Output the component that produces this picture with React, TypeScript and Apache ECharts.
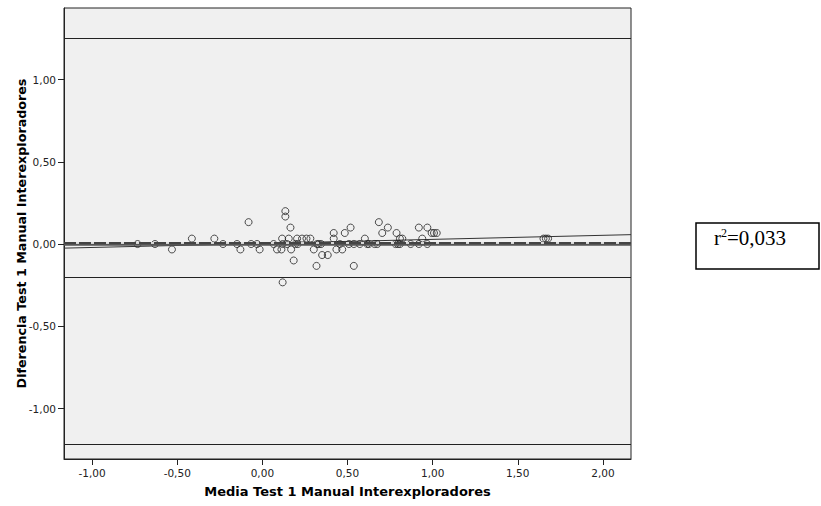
import React, { useEffect, useRef } from "react";
import * as echarts from "echarts";

// Scatter points (mean, difference)
const meanValues = [
  -0.733, -0.631, -0.531, -0.414, -0.282, -0.231, -0.149, -0.129, -0.081, -0.066,
  -0.031, -0.016, 0.066, 0.086, 0.112, 0.116, 0.119, 0.119, 0.135, 0.135,
  0.145, 0.155, 0.165, 0.169, 0.184, 0.194, 0.204, 0.208, 0.233, 0.259,
  0.282, 0.302, 0.318, 0.322, 0.331, 0.345, 0.351, 0.384, 0.419, 0.419,
  0.435, 0.455, 0.469, 0.484, 0.518, 0.508, 0.537, 0.537, 0.572, 0.602,
  0.616, 0.625, 0.659, 0.675, 0.684, 0.704, 0.737, 0.788, 0.782, 0.796,
  0.808, 0.808, 0.822, 0.871, 0.919, 0.939, 0.919, 0.969, 0.969, 0.994,
  1.008, 1.024, 1.651, 1.665, 1.678,
];
const diffValues = [
  0, 0, -0.033, 0.033, 0.033, 0, 0, -0.033, 0.133, 0,
  0, -0.033, 0, -0.033, -0.033, 0.033, 0, -0.233, 0.2, 0.167,
  0, 0.033, 0.1, -0.033, -0.1, 0, 0.033, 0, 0.033, 0.033,
  0.033, -0.033, -0.133, 0, 0, 0, -0.067, -0.067, 0.067, 0.033,
  -0.033, 0, -0.033, 0.067, 0.1, 0, 0, -0.133, 0, 0.033,
  0, 0, 0, 0, 0.133, 0.067, 0.1, 0.067, 0, 0,
  0, 0.033, 0.033, 0, 0.1, 0.033, 0, 0.1, 0, 0.067,
  0.067, 0.067, 0.033, 0.033, 0.033,
];

// Horizontal reference lines
const limitLines = [1.25, -0.2, -1.22];
const zeroLine = 0;
const meanLine = 0.012;

// Regression line endpoints
const regX = [-1.165, 2.165];
const regY = [-0.025, 0.057];

const xTicks = [-1, -0.5, 0, 0.5, 1, 1.5, 2];
const yTicks = [-1, -0.5, 0, 0.5, 1];
const xRange = [-1.165, 2.165];
const yRange = [-1.307, 1.435];

const xTitle = "Media Test 1 Manual Interexploradores";
const yTitle = "Diferencia Test 1 Manual Interexploradores";
const r2Value = "0,033";

const fmt = (v: number) => v.toFixed(2).replace(".", ",");

export default function App() {
  const ref = useRef<HTMLDivElement>(null);
  useEffect(() => {
    if (!ref.current) return;
    const chart = echarts.init(ref.current, undefined, { renderer: "svg" });
    const font = "'DejaVu Sans', Verdana, sans-serif";
    const serif = "'Liberation Serif', 'Times New Roman', serif";
    chart.setOption({
      animation: false,
      backgroundColor: "#ffffff",
      grid: {
        left: 64,
        top: 8,
        right: 190,
        bottom: 47,
        show: true,
        containLabel: false,
        outerBoundsMode: "none",
        backgroundColor: "#f0f0f0",
        borderColor: "#222",
        borderWidth: 1,
      },
      xAxis: {
        type: "value",
        min: xRange[0],
        max: xRange[1],
        name: xTitle,
        nameLocation: "middle",
        nameGap: 26,
        nameMoveOverlap: false,
        nameTextStyle: { fontFamily: font, fontWeight: "bold", fontSize: 13, color: "#000" },
        axisLine: { show: true, onZero: false, lineStyle: { color: "#222" } },
        axisTick: { show: true, length: 6, customValues: xTicks, lineStyle: { color: "#222" } },
        axisLabel: {
          customValues: xTicks,
          formatter: (v: number) => fmt(v),
          fontFamily: font,
          fontSize: 10.5,
          color: "#222",
          margin: 8,
        },
        splitLine: { show: false },
      },
      yAxis: {
        type: "value",
        min: yRange[0],
        max: yRange[1],
        name: yTitle,
        nameLocation: "middle",
        nameGap: 36,
        nameMoveOverlap: false,
        nameTextStyle: { fontFamily: font, fontWeight: "bold", fontSize: 12.7, color: "#000" },
        axisLine: { show: true, onZero: false, lineStyle: { color: "#222" } },
        axisTick: { show: true, length: 6, customValues: yTicks, lineStyle: { color: "#222" } },
        axisLabel: {
          customValues: yTicks,
          formatter: (v: number) => fmt(v),
          fontFamily: font,
          fontSize: 10.5,
          color: "#222",
          margin: 8,
        },
        splitLine: { show: false },
      },
      series: [
        {
          type: "line",
          data: [],
          silent: true,
          markLine: {
            silent: true,
            symbol: "none",
            label: { show: false },
            data: [
              ...limitLines.map((v) => ({ yAxis: v, lineStyle: { color: "#222", width: 1.2, type: "solid" } })),
              { yAxis: zeroLine, lineStyle: { color: "#555", width: 3.5, type: "solid" } },
              { yAxis: meanLine, lineStyle: { color: "#ffffff", width: 1.5, type: "solid" } },
              { yAxis: meanLine, lineStyle: { color: "#444", width: 2, type: [12, 3] } },
            ],
          },
        },
        {
          type: "line",
          data: regX.map((x, i) => [x, regY[i]]),
          symbol: "none",
          silent: true,
          lineStyle: { color: "#333", width: 1 },
          z: 3,
        },
        {
          type: "scatter",
          data: meanValues.map((x, i) => [x, diffValues[i]]),
          symbol: "circle",
          symbolSize: 7,
          itemStyle: { color: "rgba(0,0,0,0)", borderColor: "#222", borderWidth: 1 },
          z: 4,
        },
      ],
      graphic: [
        {
          type: "rect",
          shape: { x: 696, y: 223, width: 123, height: 46 },
          style: { fill: "#fff", stroke: "#000", lineWidth: 1.5 },
        },
        {
          type: "text",
          x: 714,
          y: 249,
          style: {
            text: "r{sup|2}=" + r2Value,
            fontFamily: serif,
            fontSize: 21,
            fill: "#000",
            verticalAlign: "bottom",
            rich: {
              sup: {
                fontFamily: serif,
                fontSize: 12,
                verticalAlign: "top",
                padding: [0, 0, 10, 0],
                fill: "#000",
              },
            },
          },
        },
      ],
    });
    return () => chart.dispose();
  }, []);
  return (
    <div
      ref={ref}
      style={{ position: "fixed", left: 0, top: 0, width: 821, height: 506 }}
    />
  );
}
